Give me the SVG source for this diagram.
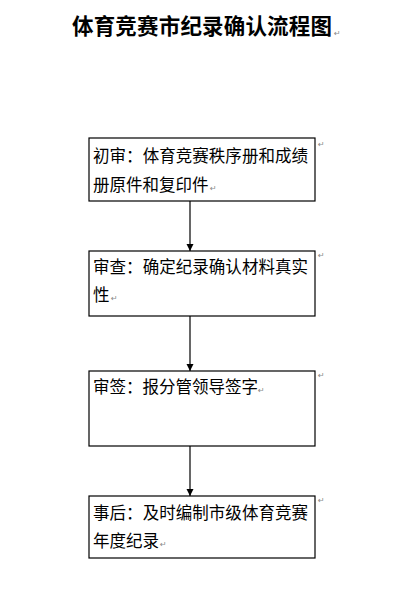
<svg xmlns="http://www.w3.org/2000/svg" width="409" height="602" viewBox="0 0 409 602">
<style>
.box{fill:#fff;stroke:#000;stroke-width:1.2}
.t{font-family:"Noto Sans CJK SC","Noto Sans CJK JP",sans-serif;font-size:16.5px;fill:#000}
.title{font-family:"Noto Sans CJK SC",sans-serif;font-size:21.5px;font-weight:bold;fill:#000}
.pm{font-family:"DejaVu Sans",sans-serif;font-size:8px;fill:#888}
.c{stroke:#000;stroke-width:1.2;fill:none}
</style>
<defs>
<marker id="ah" markerWidth="8" markerHeight="8" refX="7" refY="4" orient="auto" markerUnits="userSpaceOnUse">
<path d="M0,0.5 L7,4 L0,7.5 Z" fill="#000"/>
</marker>
</defs>
<rect width="409" height="602" fill="#fff"/>
<g id="title">
<text class="title" x="72" y="34" textLength="260">体育竞赛市纪录确认流程图</text>
<text class="pm" x="334" y="36">↵</text>
</g>
<g id="n1">
<rect class="box" x="89" y="138" width="226" height="63"/>
<text class="t" x="93" y="162" textLength="215">初审：体育竞赛秩序册和成绩</text>
<text class="t" x="93" y="191">册原件和复印件</text>
<text class="pm" x="318" y="147">↵</text>
<text class="pm" x="210" y="191">↵</text>
</g>
<g id="n2">
<rect class="box" x="89" y="251" width="226" height="65"/>
<text class="t" x="93" y="273" textLength="215">审查：确定纪录确认材料真实</text>
<text class="t" x="93" y="301">性</text>
<text class="pm" x="318" y="258">↵</text>
<text class="pm" x="111" y="301">↵</text>
</g>
<g id="n3">
<rect class="box" x="89" y="371" width="226" height="75"/>
<text class="t" x="93" y="393">审签：报分管领导签字</text>
<text class="pm" x="318" y="378">↵</text>
<text class="pm" x="258" y="393">↵</text>
</g>
<g id="n4">
<rect class="box" x="89" y="496" width="226" height="62"/>
<text class="t" x="93" y="519" textLength="215">事后：及时编制市级体育竞赛</text>
<text class="t" x="93" y="547">年度纪录</text>
<text class="pm" x="318" y="503">↵</text>
<text class="pm" x="160" y="547">↵</text>
</g>
<g id="connectors">
<line class="c" x1="190" y1="201" x2="190" y2="251" marker-end="url(#ah)"/>
<line class="c" x1="190" y1="316" x2="190" y2="371" marker-end="url(#ah)"/>
<line class="c" x1="190" y1="446" x2="190" y2="496" marker-end="url(#ah)"/>
</g>
</svg>
